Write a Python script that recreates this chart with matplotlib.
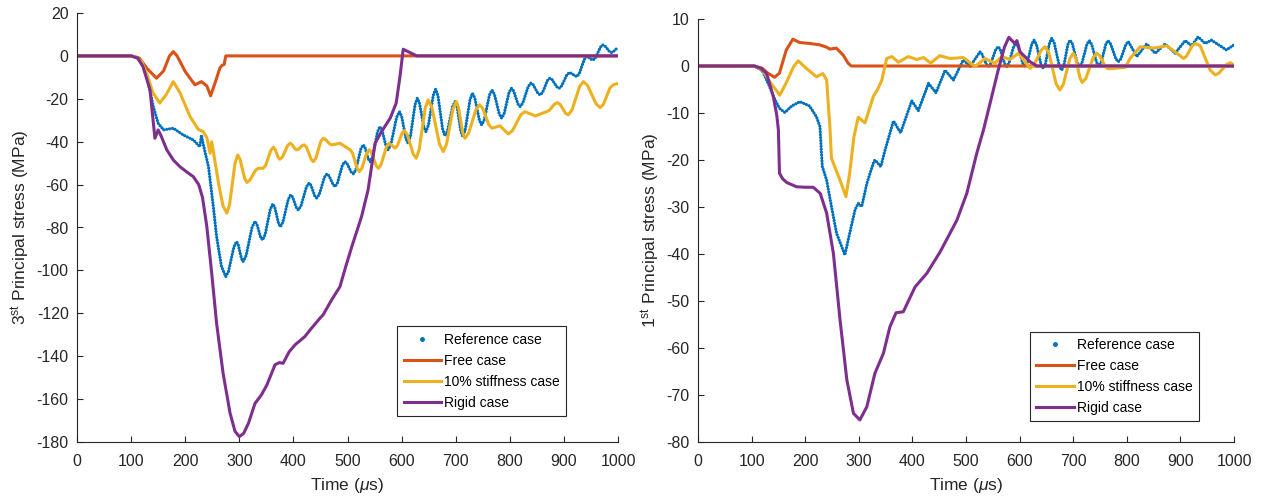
import matplotlib
matplotlib.use('Agg')
import matplotlib.pyplot as plt
from matplotlib.lines import Line2D

plt.rcParams['font.family'] = ['Liberation Sans', 'DejaVu Sans']
plt.rcParams['mathtext.fontset'] = 'custom'
plt.rcParams['mathtext.rm'] = 'Liberation Sans'
plt.rcParams['mathtext.it'] = 'Liberation Sans:italic'
plt.rcParams['axes.unicode_minus'] = False

# (time in us, stress in MPa)
# ---- left panel: 3rd principal stress ----
ref_L = [(0, 0), (100, 0), (115, -1), (125, -6), (133, -14), (141, -23.6), (150, -31.4),
         (160, -34.5), (178, -33.7), (196, -36.8), (215, -39.2), (227, -42.3), (230, -37),
         (234, -42), (243, -51.6), (252, -70.3), (258, -84.2), (267, -98.2), (275, -102.9),
         (280, -100.5), (290, -89.0), (295, -86.6), (298, -88.0), (304, -94.5), (307, -95.9),
         (312.5, -93.2), (323.5, -79.9), (329, -77.2), (332.5, -78.5), (339.5, -84.5),
         (343, -85.8), (347.8, -83.3), (357.3, -71.5), (362, -69), (365.5, -70.5),
         (372.5, -78.1), (376, -79.6), (380.8, -77.4), (390.3, -67.0), (395, -64.8),
         (398.5, -65.8), (405.5, -70.8), (409, -71.8), (414, -70.0), (424, -61.1),
         (429, -59.3), (432.5, -60.3), (439.5, -65.3), (443, -66.3), (447.8, -64.6),
         (457.3, -56.6), (462, -55), (465.8, -55.9), (473.3, -60.0), (477, -60.9),
         (481.5, -59.2), (490.5, -51.0), (495, -49.3), (499, -50.1), (507, -54.2), (511, -55),
         (515.5, -53.0), (524.5, -43.5), (529, -41.5), (532.3, -42.6), (538.8, -48.2),
         (542, -49.3), (546.5, -46.9), (555.5, -35.4), (560, -33), (563.8, -34.6),
         (571.3, -42.2), (575, -43.8), (580.3, -41.2), (590.8, -28.6), (596, -26),
         (600, -28.1), (608, -38.6), (612, -40.7), (616.3, -37.6), (624.8, -22.8),
         (629, -19.7), (633, -22.0), (641, -33.0), (645, -35.3), (649.5, -32.4),
         (658.5, -18.4), (663, -15.5), (667.3, -18.7), (675.8, -34.1), (680, -37.3),
         (684.8, -35.0), (694.3, -23.6), (699, -21.3), (702.5, -23.7), (709.5, -35.2),
         (713, -37.6), (717.5, -34.7), (726.5, -20.3), (731, -17.4), (735.3, -19.6),
         (743.8, -30.0), (748, -32.2), (752.8, -29.8), (762.3, -18.3), (767, -15.9),
         (771.5, -17.8), (780.5, -27.1), (785, -29), (789.5, -27.0), (798.5, -17.1),
         (803, -15.1), (807, -16.3), (815, -22.4), (819, -23.6), (824, -22.0), (834, -14.3),
         (839, -12.7), (843.3, -13.5), (851.8, -17.4), (856, -18.2), (860.5, -17.1),
         (869.5, -11.5), (874, -10.4), (878.3, -11.1), (886.8, -14.4), (891, -15.1),
         (895.8, -14.0), (905.3, -8.9), (910, -7.8), (913.5, -8.1), (920.5, -9.3),
         (924, -9.6), (928.5, -8.2), (937.5, -1.7), (942, -0.3), (945, -0.5), (951, -1.7),
         (954, -1.9), (958.5, -0.9), (967.5, 4.1), (972, 5.1), (976, 4.6), (984, 2.1),
         (988, 1.6), (991, 1.9), (997, 3.3), (1000, 3.6)]

free_L = [(0, 0), (100, 0), (115, -1), (130, -6), (147, -10.4), (160, -7), (171, 0),
          (178, 2.0), (185, 0), (200, -7.3), (218, -13.5), (230, -12), (240, -14),
          (247, -18.6), (256, -12), (264, -5.7), (268, -4.4), (272, -4), (275, 0), (1000, 0)]

soft_L = [(0, 0), (100, 0), (110, -0.5), (120, -3), (130, -9), (140, -17), (153, -22),
          (165, -18), (178, -12), (190, -17), (209, -28.3), (224, -34.2), (233, -35.3),
          (240, -38), (246, -45.4), (249, -40), (253, -46), (262, -60), (270, -70),
          (277, -73.3), (282, -69.3), (292, -50.2), (297, -46.2), (301.3, -48.1),
          (309.8, -57.1), (314, -59), (319.3, -58.0), (329.8, -53.4), (335, -52.4),
          (344, -52.4), (348.8, -51.0), (358.3, -44.0), (363, -42.6), (366, -43.4),
          (372, -47.4), (375, -48.2), (379.8, -47.1), (389.3, -41.8), (394, -40.7),
          (397, -41.2), (403, -43.3), (406, -43.8), (409.5, -43.5), (416.5, -41.8),
          (420, -41.5), (424.3, -42.6), (432.8, -48.2), (437, -49.3), (441.5, -47.7),
          (450.5, -40.0), (455, -38.4), (459, -38.9), (467, -41.0), (471, -41.5),
          (486, -40.7), (505, -43.8), (509.3, -45.3), (517.8, -52.4), (522, -53.9),
          (526.5, -52.4), (535.5, -45.3), (540, -43.8), (544.3, -45.1), (552.8, -51.1),
          (557, -52.4), (562, -50.7), (572, -42.4), (577, -40.7), (588, -43), (592.3, -41.8),
          (600.8, -36.0), (605, -34.8), (610.5, -36.7), (621.5, -45.8), (627, -47.7),
          (632.5, -43.7), (643.5, -24.5), (649, -20.5), (656, -24.0), (670, -41.1),
          (677, -44.6), (683, -41.2), (695, -24.7), (701, -21.3), (705, -23.8),
          (713, -35.9), (717, -38.4), (723.8, -36.1), (737.3, -25.1), (744, -22.8),
          (749.8, -24.4), (761.3, -32.1), (767, -33.7), (782, -32.6), (797, -36.4),
          (804.8, -34.9), (820.3, -27.5), (828, -26), (847, -28), (868, -26), (873, -25.4),
          (883, -22.4), (888, -21.8), (893, -22.6), (903, -26.7), (908, -27.5), (915, -25.2),
          (929, -14.3), (936, -12), (943.8, -13.8), (959.3, -22.3), (967, -24.1),
          (973, -22.6), (985, -15.0), (991, -13.5), (1000, -12.8)]

rigid_L = [(0, 0), (100, 0), (112, -1), (122, -5), (135, -15.9), (144, -38.4), (150, -34.5),
           (155, -37), (166, -43.8), (178, -48.5), (190, -51.6), (205, -54.5), (215, -56.3),
           (225, -60), (232, -66), (240, -79.6), (249, -101.3), (258, -124.6), (270, -147.9),
           (283, -166.6), (292, -175), (300, -177.5), (308, -176), (317, -171.2), (329, -162),
           (341, -158), (351, -153.4), (366, -144), (374, -143), (381, -143.3), (392, -138),
           (403, -134.7), (421, -130.9), (431, -127.7), (449, -122.3), (455, -120.7),
           (470, -114), (486, -107.6), (497, -98), (508, -88.9), (526, -74.9), (538, -62.5),
           (551, -40.7), (563, -35.3), (579, -29), (590, -22), (597, -9.6), (603, 3.1),
           (628, 0), (1000, 0)]

# ---- right panel: 1st principal stress ----
ref_R = [(0, 0), (105, 0), (120, -1), (132, -4), (143.7, -7.2), (152, -9), (162, -9.9),
         (175, -8.5), (190, -7.6), (208, -8.5), (221, -10.8), (227.6, -12.9), (229, -15.7),
         (230, -17.9), (232, -21.4), (240, -24.3), (249, -29.9), (258.5, -35.6), (274, -40.2),
         (283, -35.6), (293, -30.6), (299, -29.2), (305.5, -29.9), (315, -25), (327, -20.7),
         (330, -20), (341, -21.4), (349, -17.9), (364.6, -11.7), (378, -14.2), (398.8, -7.4),
         (411, -9.5), (430, -3.7), (444, -5.7), (461, -0.9), (476.5, -3), (495, 1.3),
         (507.5, -0.1), (526, 3.0), (529.9, 2.5), (537.7, 0.4), (541.6, -0.1), (546.2, 0.5),
         (555.4, 3.5), (560, 4.1), (564, 3.5), (572, 0.5), (576, -0.1), (580.3, 0.6),
         (588.8, 4.1), (593, 4.8), (597.3, 4.1), (605.8, 0.6), (610, -0.1), (614.3, 0.7),
         (622.8, 4.7), (627, 5.5), (631.3, 4.6), (639.8, 0.4), (644, -0.5), (648, 0.4),
         (656, 5.0), (660, 5.9), (664.6, 4.9), (673.9, 0.1), (678.5, -0.9), (682.4, 0.0),
         (690.1, 4.6), (694, 5.5), (698.5, 4.7), (707.5, 0.7), (712, -0.1), (716.5, 0.7),
         (725.5, 4.6), (730, 5.4), (734.5, 4.6), (743.5, 0.8), (748, 0), (752.3, 0.8),
         (760.8, 4.6), (765, 5.4), (769.8, 4.7), (779.3, 1.6), (784, 0.9), (788.8, 1.5),
         (798.3, 4.6), (803, 5.2), (818.6, 2.0), (837, 4.7), (853, 2.7), (871.6, 4.7),
         (890, 2.7), (909, 5.4), (921, 4.3), (933, 6.2), (946, 4.8), (958, 5.5), (986, 3.4),
         (1000, 4.5)]

free_R = [(0, 0), (105, 0), (120, -0.5), (130, -1.5), (143, -2.4), (152, -1.5), (164.6, 3.4),
          (177, 5.7), (189.5, 5.0), (208, 4.8), (227, 4.5), (240, 4.0), (246, 3.6), (258, 3.8),
          (265, 3.0), (271, 2.3), (280, 0.6), (286, 0), (1000, 0)]

soft_R = [(0, 0), (105, 0), (120, -0.8), (135, -3.5), (152.6, -6.2), (165, -3.5), (178, -0.2),
          (187, 1.1), (202, -0.5), (221, -2.3), (233, -1.6), (240, -3), (246, -12.9),
          (249, -19.6), (257, -22), (265, -24.3), (276, -27.8), (283, -22.8), (291, -15),
          (299, -10.9), (311.6, -12.1), (327, -6.5), (335, -5), (343, -3), (352, 1.6),
          (361.7, 2.0), (374, 0.8), (392, 2.0), (408, 1.4), (421, 1.8), (434, 0.6), (451, 2.2),
          (470, 1.6), (495, 1.8), (517, -0.1), (535.5, 1.6), (554, 0.6), (566.6, 2.0),
          (582, 1.4), (597.8, 2.7), (619.6, -0.5), (626.6, 0.2), (640.6, 3.4), (647.6, 4.1),
          (654.5, 2.8), (668.2, -3.8), (675, -5.1), (681.3, -4.0), (693.8, 1.6), (700, 2.7),
          (704.3, 1.8), (712.8, -2.6), (717, -3.5), (723.8, -2.6), (737.3, 1.8), (744, 2.7),
          (749.3, 2.2), (759.8, -0.1), (765, -0.6), (797, -0.3), (806, 1.6), (825, 4.1),
          (850, 3.8), (875, 4.3), (906, 1.6), (911.4, 2.1), (922.1, 4.3), (927.5, 4.8),
          (937, 4.3), (955.6, -0.9), (965, -1.9), (972, -1.5), (986, 0.3), (993, 0.7),
          (1000, 0.2)]

rigid_R = [(0, 0), (105, 0), (118, -0.5), (128, -1.6), (140.5, -6.5), (147, -10.5),
           (150, -13.6), (152, -22.8), (158, -24), (165.7, -24.8), (184, -25.7), (200, -25.8),
           (215, -25.8), (228, -27.1), (240, -31.3), (252.6, -39.9), (265, -54), (277.7, -66.8),
           (290, -73.9), (302, -75.3), (315, -72.5), (330, -65.4), (346, -61.1), (358, -55.5),
           (369.5, -52.5), (383, -52.3), (405, -47), (427, -44.1), (452, -39.5), (483, -32.8),
           (501.5, -27.1), (520, -18.6), (532.6, -13.6), (545, -7.9), (560, -0.9), (572, 4.1),
           (580, 6.1), (591, 4.8), (595, 5.4), (601, 3.0), (619.5, 0.9), (632, 0), (1000, 0)]

labels = ['Reference case', 'Free case', '10% stiffness case', 'Rigid case']
colors = ['#0072BD', '#D95319', '#EDB120', '#7E2F8E']
dark = '#262626'

fig = plt.figure(figsize=(12.62, 4.97), dpi=100)
axL = fig.add_axes([77 / 1262, 1 - 442 / 497, 541 / 1262, 429 / 497])
axR = fig.add_axes([698 / 1262, 1 - 442 / 497, 536 / 1262, 423 / 497])


def draw(ax, series, ylim, yticks, ylabel, leg_anchor):
    t, s = zip(*series[0])
    ax.plot(t, s, color=colors[0], lw=2.3,
            linestyle=(0, (0.01, 0.9)), dash_capstyle='round')
    for data, c in zip(series[1:], colors[1:]):
        t, s = zip(*data)
        ax.plot(t, s, color=c, lw=2.2, solid_joinstyle='round')
    ax.set_xlim(0, 1000)
    ax.set_ylim(*ylim)
    ax.set_xticks(range(0, 1001, 100))
    ax.set_yticks(yticks)
    for side in ['top', 'right']:
        ax.spines[side].set_visible(False)
    for side in ['left', 'bottom']:
        ax.spines[side].set_color(dark)
        ax.spines[side].set_linewidth(0.8)
    ax.tick_params(direction='in', length=4, width=0.8, color=dark,
                   labelcolor=dark, labelsize=11.5)
    ax.tick_params(axis='x', pad=9)
    ax.tick_params(axis='y', pad=6)
    ax.set_xlabel(r'Time ($\mu$s)', fontsize=12.5, color=dark, labelpad=5)
    ax.set_ylabel(ylabel, fontsize=12.5, color=dark, labelpad=3)
    handles = [Line2D([], [], color=colors[0], marker='.', ls='none', markersize=5)]
    handles += [Line2D([], [], color=c, lw=2.2) for c in colors[1:]]
    leg = ax.legend(handles, labels, loc='lower left', bbox_to_anchor=leg_anchor,
                    borderaxespad=0, fontsize=10, handlelength=2.7,
                    handletextpad=0.25, labelspacing=0.5, borderpad=0.45,
                    fancybox=False, framealpha=1, edgecolor=dark)
    leg.get_frame().set_linewidth(0.8)


draw(axL, [ref_L, free_L, soft_L, rigid_L], (-180, 20), range(-180, 21, 20),
     r'3$^{\rm st}$ Principal stress (MPa)', (0.592, 0.061))
draw(axR, [ref_R, free_R, soft_R, rigid_R], (-80, 10), range(-80, 11, 10),
     r'1$^{\rm st}$ Principal stress (MPa)', (0.619, 0.05))

fig.savefig('out.png', dpi=100)
